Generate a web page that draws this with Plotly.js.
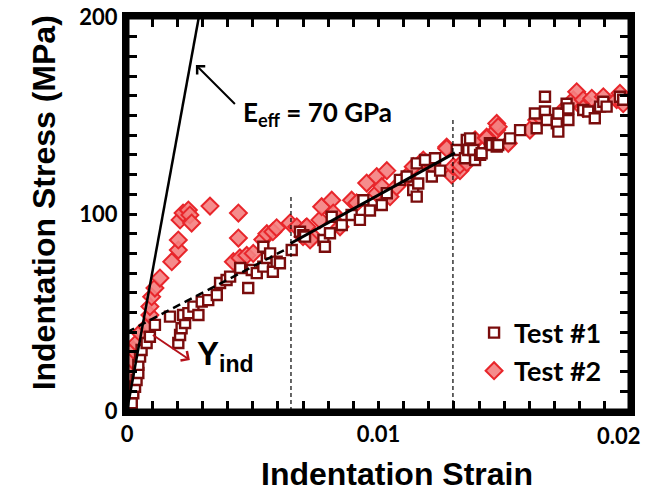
<!DOCTYPE html>
<html>
<head>
<meta charset="utf-8">
<script src="https://cdn.plot.ly/plotly-3.0.1.min.js"></script>
<style>html,body{margin:0;padding:0;background:#fff;}#chart{width:647px;height:495px;}</style>
</head>
<body>
<div id="chart"></div>
<script>
// Test #1 (open squares)
const test1Strain = [0.00005,0.00019,0.00025,0.00032,0.00038,0.00045,0.00045,0.00052,0.00058,0.00078,0.00091,0.00111,0.00171,0.00204,0.00211,0.00217,0.00231,0.00223,0.00244,0.00264,0.00284,0.00297,0.00323,0.00357,0.0037,0.00396,0.0041,0.0045,0.00482,0.00496,0.00516,0.00542,0.00556,0.00542,0.00569,0.0058,0.00595,0.00608,0.00655,0.00688,0.00701,0.00708,0.00781,0.00787,0.00807,0.00814,0.00854,0.00893,0.00926,0.0094,0.00966,0.01013,0.01033,0.01085,0.01112,0.01138,0.01152,0.01158,0.01152,0.01185,0.01212,0.01225,0.01245,0.01311,0.01344,0.01351,0.01357,0.01364,0.01377,0.01384,0.01404,0.0141,0.01443,0.0145,0.0147,0.01476,0.01523,0.01563,0.01622,0.01629,0.01662,0.01662,0.01669,0.01709,0.01715,0.01715,0.01748,0.01755,0.01755,0.01814,0.01834,0.0186,0.01881,0.01894,0.01907,0.0196,0.01973];
const test1Stress = [0.5,4,9,12.3,15.7,19.3,23.4,27.6,31,34.5,37.7,43.7,47.9,34.5,38.6,42,44.7,48.7,49.7,53,48.7,55.5,56.3,58.9,65,66.5,68.2,72.6,62.4,71.6,70,73.3,77.7,83.4,80,70.7,75.8,75,81.7,91,89.3,88.5,86.8,83.4,90.2,98.6,94.4,99.5,97,107,101.8,104.6,110.5,117.3,119,112.2,108.8,115.5,125.7,127.4,119,128.3,122,132.5,128.3,137.6,132.5,138.4,132.5,127.4,130,130.8,135.9,135,134.2,135,138.4,142.6,151,143.5,152,159.5,147.7,146,141.8,151,156,147.7,153.6,152.8,152,148.6,154.5,157,154.5,159.5,158];

// Test #2 (filled diamonds)
const test2Strain = [0,0.00005,0.00012,0.00019,0.00025,0.00038,0.00052,0.00078,0.00091,0.00091,0.00098,0.00111,0.00131,0.00178,0.00204,0.00204,0.00211,0.00223,0.00244,0.0025,0.00257,0.0033,0.00443,0.00443,0.00423,0.00449,0.00476,0.00502,0.0054,0.00556,0.0058,0.00595,0.00648,0.00675,0.0071,0.0074,0.007,0.00715,0.00728,0.00767,0.00774,0.00814,0.0082,0.00847,0.00893,0.00913,0.00953,0.00993,0.00993,0.01013,0.01033,0.01046,0.01072,0.01112,0.01138,0.01178,0.01218,0.01271,0.01271,0.01291,0.01298,0.01324,0.01324,0.01351,0.01377,0.01384,0.0143,0.0143,0.0147,0.0147,0.01476,0.01516,0.01602,0.01629,0.01642,0.01735,0.01775,0.01788,0.01814,0.01814,0.01848,0.01894,0.01947,0.0196,0.01973];
const test2Stress = [5.6,12,19,26,31,34.5,39.6,42.8,48.7,53,58,62.4,67.5,75.8,81.7,86.8,97,100.5,102,99.5,95.4,104,100.5,87.8,75.8,77.7,79,80,87,90,91,93,95.4,93.5,93,88.5,88.5,93.5,86.8,97,103.7,107,100.5,93.5,107,105.6,115.7,119,110.5,113.9,122,108.8,113.9,119,124,127.4,124,134,133.3,119.8,124,122,124.9,126,136,137.6,139,138.4,142.6,146,144.3,135.9,142.6,147.7,149.4,152.8,158,162,158,153.6,158.7,159.5,158,161.3,156];

// Fit lines
const effStrain = [0, 0.002857];
const effStress = [0, 200];
const dashFitStrain = [0, 0.0063];
const dashFitStress = [40, 82];
const solidFitStrain = [0.0065, 0.01304];
const solidFitStress = [85, 131];
const vline1Strain = [0.00652, 0.00652];
const vline1Stress = [0, 110];
const vline2Strain = [0.01296, 0.01296];
const vline2Stress = [0, 148];

const xTickVals = [0, 0.01, 0.02];
const xTickText = ['0', '0.01', ''];
const xLastLabel = '0.02';
const yTickVals = [0, 100, 200];
const yTickText = ['0', '100', '200'];

const calib = {family: 'Lato, "Open Sans", sans-serif', weight: 'bold', color: '#000'};
const arial = {family: '"Liberation Sans", Arial, sans-serif', weight: 'bold', color: '#000'};

const traces = [
  {x: test2Strain, y: test2Stress, mode: 'markers', type: 'scatter', name: 'Test #2',
   legendrank: 2, legendgroup: 'b',
   marker: {symbol: 'diamond', size: 13, color: 'rgba(244,128,128,0.9)', line: {color: '#e8262b', width: 2}}},
  {x: test1Strain, y: test1Stress, mode: 'markers', type: 'scatter', name: 'Test #1',
   legendrank: 1, legendgroup: 'a',
   marker: {symbol: 'square', size: 10, color: '#ffffff', line: {color: '#7a0c0c', width: 2.4}}},
  {x: effStrain, y: effStress, mode: 'lines', showlegend: false, line: {color: '#000', width: 2.5}},
  {x: dashFitStrain, y: dashFitStress, mode: 'lines', showlegend: false, line: {color: '#000', width: 2.5, dash: '8px,5px'}},
  {x: solidFitStrain, y: solidFitStress, mode: 'lines', showlegend: false, line: {color: '#000', width: 3}},
  {x: vline1Strain, y: vline1Stress, mode: 'lines', showlegend: false, line: {color: '#000', width: 1.2, dash: '4px,3px'}},
  {x: vline2Strain, y: vline2Stress, mode: 'lines', showlegend: false, line: {color: '#000', width: 1.2, dash: '4px,3px'}}
];

const axisCommon = {
  showline: true, linewidth: 5, linecolor: '#000', mirror: 'ticks',
  ticks: 'inside', ticklen: 10, tickwidth: 3, tickcolor: '#000',
  showgrid: false, zeroline: false, tickfont: Object.assign({size: 22}, calib)
};

const layout = {
  width: 647, height: 495,
  margin: {l: 127, r: 17, t: 17, b: 84},
  paper_bgcolor: '#fff', plot_bgcolor: '#fff',
  showlegend: true,
  legend: {x: 0.69, y: 0.26, xanchor: 'left', yanchor: 'top', bgcolor: 'rgba(0,0,0,0)',
           font: Object.assign({size: 27}, calib), tracegroupgap: 0},
  xaxis: Object.assign({}, axisCommon, {range: [0, 0.02], tickvals: xTickVals, ticktext: xTickText,
          minor: {dtick: 0.001, ticks: 'inside', ticklen: 10, tickwidth: 3, tickcolor: '#000', showgrid: false}}),
  yaxis: Object.assign({}, axisCommon, {range: [0, 200], tickvals: yTickVals, ticktext: yTickText,
          minor: {dtick: 10, ticks: 'inside', ticklen: 10, tickwidth: 3, tickcolor: '#000', showgrid: false}}),
  shapes: [
    {type: 'rect', xref: 'paper', yref: 'paper', x0: 0, x1: 1, y0: 0, y1: 1,
     line: {color: '#000', width: 5}, fillcolor: 'rgba(0,0,0,0)', layer: 'above'}
  ],
  annotations: [
    {xref: 'paper', yref: 'paper', x: 1, y: 0, yshift: -24, xshift: 13, text: xLastLabel, showarrow: false,
     xanchor: 'right', yanchor: 'middle', font: Object.assign({size: 22}, calib)},
    {xref: 'paper', yref: 'paper', x: 0.5377, y: -0.16, text: 'Indentation Strain', showarrow: false,
     xanchor: 'center', yanchor: 'middle', font: Object.assign({size: 32}, arial)},
    {xref: 'paper', yref: 'paper', x: -0.165, y: 0.527, text: 'Indentation Stress (MPa)', showarrow: false,
     textangle: -90, xanchor: 'center', yanchor: 'middle', font: Object.assign({size: 32}, arial)},
    {x: 0.00274, y: 175.6, text: ' ', showarrow: true, ax: 42, ay: 42, arrowhead: 4, arrowsize: 1.1,
     arrowwidth: 2, arrowcolor: '#000'},
    {xref: 'x', yref: 'y', x: 0.00455, y: 151, text: 'E<sub>eff</sub> = 70 GPa', showarrow: false,
     xanchor: 'left', yanchor: 'middle', font: Object.assign({size: 26}, calib)},
    {x: 0.0025, y: 25.9, text: ' ', showarrow: true, ax: -40, ay: -27, arrowhead: 4, arrowsize: 1.1,
     arrowwidth: 2, arrowcolor: '#b5121b'},
    {xref: 'x', yref: 'y', x: 0.00272, y: 28, text: 'Y<sub>ind</sub>', showarrow: false,
     xanchor: 'left', yanchor: 'middle', font: Object.assign({size: 33}, arial)}
  ]
};

Plotly.newPlot('chart', traces, layout, {displayModeBar: false, staticPlot: true});
</script>
</body>
</html>
